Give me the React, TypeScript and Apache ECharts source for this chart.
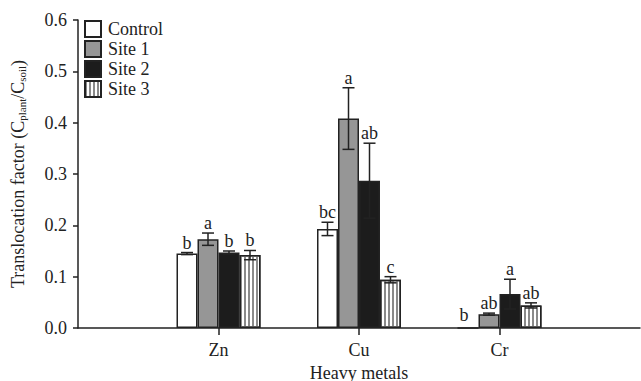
import React, { useEffect, useRef } from "react";
import * as echarts from "echarts";

const categories = ["", "Zn", "Cu", "Cr", ""];
const seriesNames = ["Control", "Site 1", "Site 2", "Site 3"];
const controlVals = [null, 0.145, 0.193, 0, null];
const site1Vals = [null, 0.173, 0.408, 0.027, null];
const site2Vals = [null, 0.147, 0.287, 0.066, null];
const site3Vals = [null, 0.142, 0.094, 0.044, null];
const controlErr = [null, 0.002, 0.013, 0, null];
const site1Err = [null, 0.012, 0.06, 0.002, null];
const site2Err = [null, 0.003, 0.073, 0.029, null];
const site3Err = [null, 0.009, 0.006, 0.005, null];
const controlLetters = ["", "b", "bc", "b", ""];
const site1Letters = ["", "a", "a", "ab", ""];
const site2Letters = ["", "b", "ab", "a", ""];
const site3Letters = ["", "b", "c", "ab", ""];
const yTicks = [0, 0.1, 0.2, 0.3, 0.4, 0.5, 0.6];

const FONT = "Liberation Serif";
const INK = "#222";
const BAR_W = 21;
const FS = 18;

export default function App() {
  const ref = useRef<HTMLDivElement>(null);
  useEffect(() => {
    const chart = echarts.init(ref.current!, null, { renderer: "svg" });
    const vals = [controlVals, site1Vals, site2Vals, site3Vals];
    const errs = [controlErr, site1Err, site2Err, site3Err];
    const letters = [controlLetters, site1Letters, site2Letters, site3Letters];
    const colors = ["#ffffff", "#969696", "#1c1c1c", "#ffffff"];

    const bars: any[] = seriesNames.map((name, i) => ({
      name,
      type: "bar",
      barWidth: BAR_W,
      barGap: "0%",
      data: vals[i].map((v) => (v === null ? "-" : v)),
      itemStyle: {
        color: colors[i],
        borderColor: INK,
        borderWidth: 1.5,
        decal:
          i === 3
            ? {
                symbol: "rect",
                symbolSize: 1,
                dashArrayX: [1.5, 1.5],
                dashArrayY: [4, 0],
                rotation: 0,
                color: "#8a8a8a",
                backgroundColor: "#ffffff",
              }
            : undefined,
      },
      z: 2,
    }));

    const errData: any[] = [];
    vals.forEach((arr, s) => {
      arr.forEach((v, c) => {
        if (v === null) return;
        errData.push([c, v, errs[s][c] as number, s, letters[s][c]]);
      });
    });

    const errSeries = {
      type: "custom",
      name: "err",
      z: 5,
      data: errData,
      renderItem: (params: any, api: any) => {
        const c = api.value(0);
        const v = api.value(1);
        const e = api.value(2);
        const s = api.value(3);
        const letter = errData[params.dataIndex][4];
        const off = (s - 1.5) * BAR_W;
        const pTop = api.coord([c, v + e]);
        const pBot = api.coord([c, Math.max(v - e, 0)]);
        const x = pTop[0] + off;
        const children: any[] = [];
        if (e > 0) {
          const style = { stroke: INK, lineWidth: 1.5 };
          children.push(
            { type: "line", shape: { x1: x, y1: pTop[1], x2: x, y2: pBot[1] }, style },
            { type: "line", shape: { x1: x - 6, y1: pTop[1], x2: x + 6, y2: pTop[1] }, style },
            { type: "line", shape: { x1: x - 6, y1: pBot[1], x2: x + 6, y2: pBot[1] }, style }
          );
        }
        const isZero = s === 0 && v === 0;
        const ty = pTop[1] - 1;
        children.push({
          type: "text",
          style: {
            x: isZero ? x - 4 : x,
            y: isZero ? ty - 3 : ty,
            text: letter,
            font: `${FS}px "${FONT}"`,
            fill: INK,
            align: "center",
            verticalAlign: "bottom",
          },
        });
        return { type: "group", children };
      },
    };

    chart.setOption({
      animation: false,
      aria: { enabled: false },
      legend: {
        data: seriesNames,
        orient: "vertical",
        left: 79,
        top: 15,
        itemWidth: 16,
        itemHeight: 16,
        itemGap: 2,
        icon: "rect",
        textStyle: { fontFamily: FONT, fontSize: FS, color: INK, padding: [0, 0, 0, 2] },
        selectedMode: false,
      },
      grid: { left: 78, right: 1, top: 20, bottom: 53, containLabel: false, outerBoundsMode: "none" },
      xAxis: {
        type: "category",
        data: categories,
        boundaryGap: false,
        name: "Heavy metals",
        nameLocation: "middle",
        nameGap: 35,
        nameTextStyle: { fontFamily: FONT, fontSize: FS, color: INK },
        axisLine: { lineStyle: { color: INK, width: 1.5 } },
        axisTick: {
          length: 7,
          interval: (i: number) => i >= 1 && i <= 3,
          lineStyle: { color: INK, width: 1.5 },
        },
        axisLabel: {
          fontFamily: FONT,
          fontSize: FS,
          color: INK,
          margin: 13,
          interval: 0,
        },
        splitLine: { show: false },
      },
      yAxis: {
        type: "value",
        min: 0,
        max: 0.6,
        interval: 0.1,
        name: "Translocation factor (C{sub|plant}/C{sub|soil})",
        nameLocation: "middle",
        nameGap: 51,
        nameTextStyle: {
          fontFamily: FONT,
          fontSize: FS,
          color: INK,
          rich: {
            sub: { fontFamily: FONT, fontSize: 11, color: INK, verticalAlign: "bottom", padding: [7, 0, 0, 0] },
          },
        },
        axisLine: { show: true, lineStyle: { color: INK, width: 1.5 } },
        axisTick: { show: true, length: 5, lineStyle: { color: INK, width: 1.5 } },
        axisLabel: {
          fontFamily: FONT,
          fontSize: FS,
          color: INK,
          margin: 11,
          formatter: (v: number) => {
            const t = yTicks.find((k) => Math.abs(k - v) < 1e-9);
            return (t ?? v).toFixed(1);
          },
        },
        splitLine: { show: false },
      },
      series: [...bars, errSeries],
    });
    return () => chart.dispose();
  }, []);
  return <div ref={ref} style={{ width: 641, height: 381, position: "absolute", left: 0, top: 0 }} />;
}
